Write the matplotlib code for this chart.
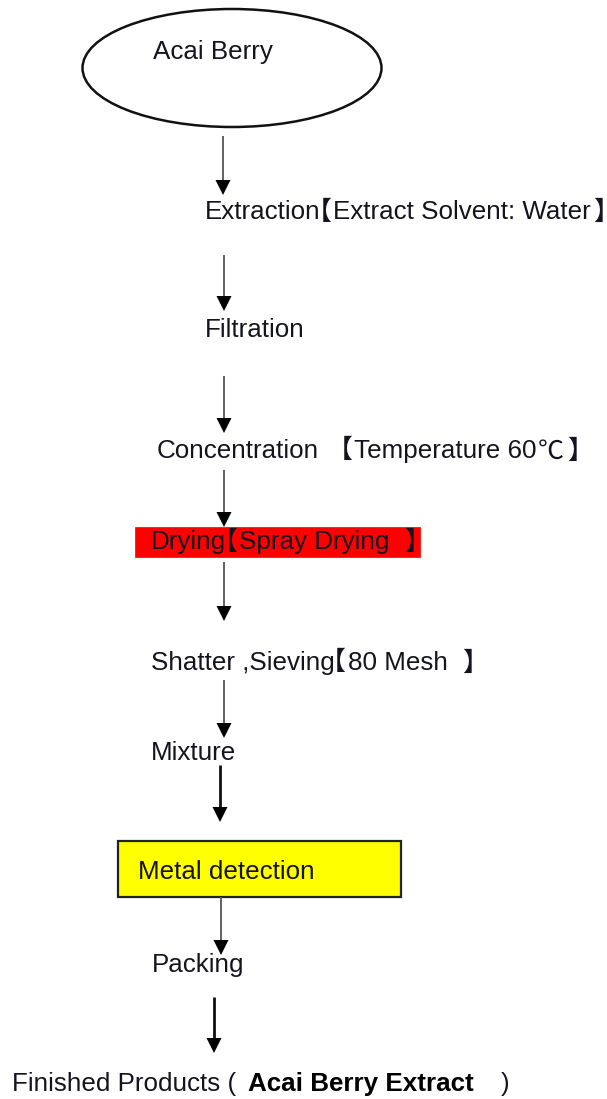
import re
import matplotlib
matplotlib.use("Agg")
import matplotlib.pyplot as plt
from matplotlib.patches import Ellipse, Rectangle
from matplotlib.textpath import TextPath
from matplotlib.font_manager import FontProperties

# ---- content ----
start_label = "Acai Berry"
step_labels = [
    "Extraction【Extract Solvent: Water】",
    "Filtration",
    "Concentration 【Temperature 60℃】",
    "Drying【Spray Drying  】",
    "Shatter ,Sieving【80 Mesh  】",
    "Mixture",
    "Metal detection",
    "Packing",
]
final_parts = ["Finished Products (", "Acai Berry Extract", ")"]

# ---- layout (pixel coords) ----
step_x = [205, 205, 157, 151, 151, 151, 138, 152]
step_y = [212, 330, 451, 542, 663, 753, 872, 965]
red_box = (135, 527, 285, 30)
yellow_box = (118, 841, 283, 56)
arrow_x = [223, 224, 224, 224, 224, 224, 220, 221, 214]
arrow_y0 = [136, 255, 376, 470, 562, 680, 765, 897, 997]
arrow_y1 = [195, 311, 433, 527, 621, 738, 822, 955, 1053]
arrow_lw = [1.3, 1.3, 1.3, 1.3, 1.3, 1.3, 2.0, 1.3, 2.0]
arrow_col = ["#555555"] * 6 + ["#111111", "#555555", "#111111"]

FS = 18.7
TXT = "#141420"
LAT = ["Liberation Sans", "DejaVu Sans"]
CJK = ["Noto Sans CJK SC", "DejaVu Sans"]
PX = 100 / 72
SP = 0.278 * FS * PX   # space advance in px
GAP = 2.5

fig = plt.figure(figsize=(6.07, 10.99), dpi=100)
ax = fig.add_axes([0, 0, 1, 1])
ax.set_xlim(0, 607)
ax.set_ylim(1099, 0)
ax.axis("off")
renderer = fig.canvas.get_renderer()


def ink(ch):
    e = TextPath((0, 0), ch, size=FS, prop=FontProperties(family=CJK)).get_extents()
    return e.x0 * PX, e.x1 * PX


def rich(x, y, s, color=TXT, weight="normal", z=3):
    cur = x
    prev_space = False
    for tok in re.findall(r"[【】℃]|[^【】℃]+", s):
        if tok in "【】℃":
            x0, x1 = ink(tok)
            if prev_space:
                ax.text(cur, y, tok, fontsize=FS, color=color, family=CJK,
                        va="center", ha="left", zorder=z)
                cur += x1 + GAP
            else:
                cur += GAP
                ax.text(cur - x0, y, tok, fontsize=FS, color=color, family=CJK,
                        va="center", ha="left", zorder=z)
                cur += (x1 - x0) + GAP
            prev_space = False
        else:
            lead = len(tok) - len(tok.lstrip(" "))
            trail = len(tok) - len(tok.rstrip(" "))
            cur += lead * SP
            core = tok.strip(" ")
            if core:
                t = ax.text(cur, y, core, fontsize=FS, color=color, family=LAT,
                            weight=weight, va="center", ha="left", zorder=z)
                cur += t.get_window_extent(renderer).width
            cur += trail * SP
            prev_space = trail > 0
    return cur


ax.add_patch(Ellipse((232, 68), 299, 118, facecolor="white", edgecolor="#111111", lw=1.8))
rich(153, 52, start_label)

ax.add_patch(Rectangle(red_box[:2], red_box[2], red_box[3], facecolor="#ff0000",
                       edgecolor="#ff0000", lw=0.5, zorder=1))
ax.add_patch(Rectangle(yellow_box[:2], yellow_box[2], yellow_box[3], facecolor="#ffff00",
                       edgecolor="#222222", lw=1.6, zorder=1))

for lab, x, y in zip(step_labels, step_x, step_y):
    rich(x, y, lab)

for x, y0, y1, lw, c in zip(arrow_x, arrow_y0, arrow_y1, arrow_lw, arrow_col):
    ax.plot([x, x], [y0, y1 - 12], color=c, lw=lw, solid_capstyle="butt", zorder=4)
    ax.fill([x - 7.5, x + 7.5, x], [y1 - 15, y1 - 15, y1], color="#000000", zorder=4, lw=0)

rich(12, 1084, final_parts[0])
rich(248, 1084, final_parts[1], color="#000000", weight="bold")
rich(501, 1084, final_parts[2])

fig.savefig("out.png", dpi=100, facecolor="white")
